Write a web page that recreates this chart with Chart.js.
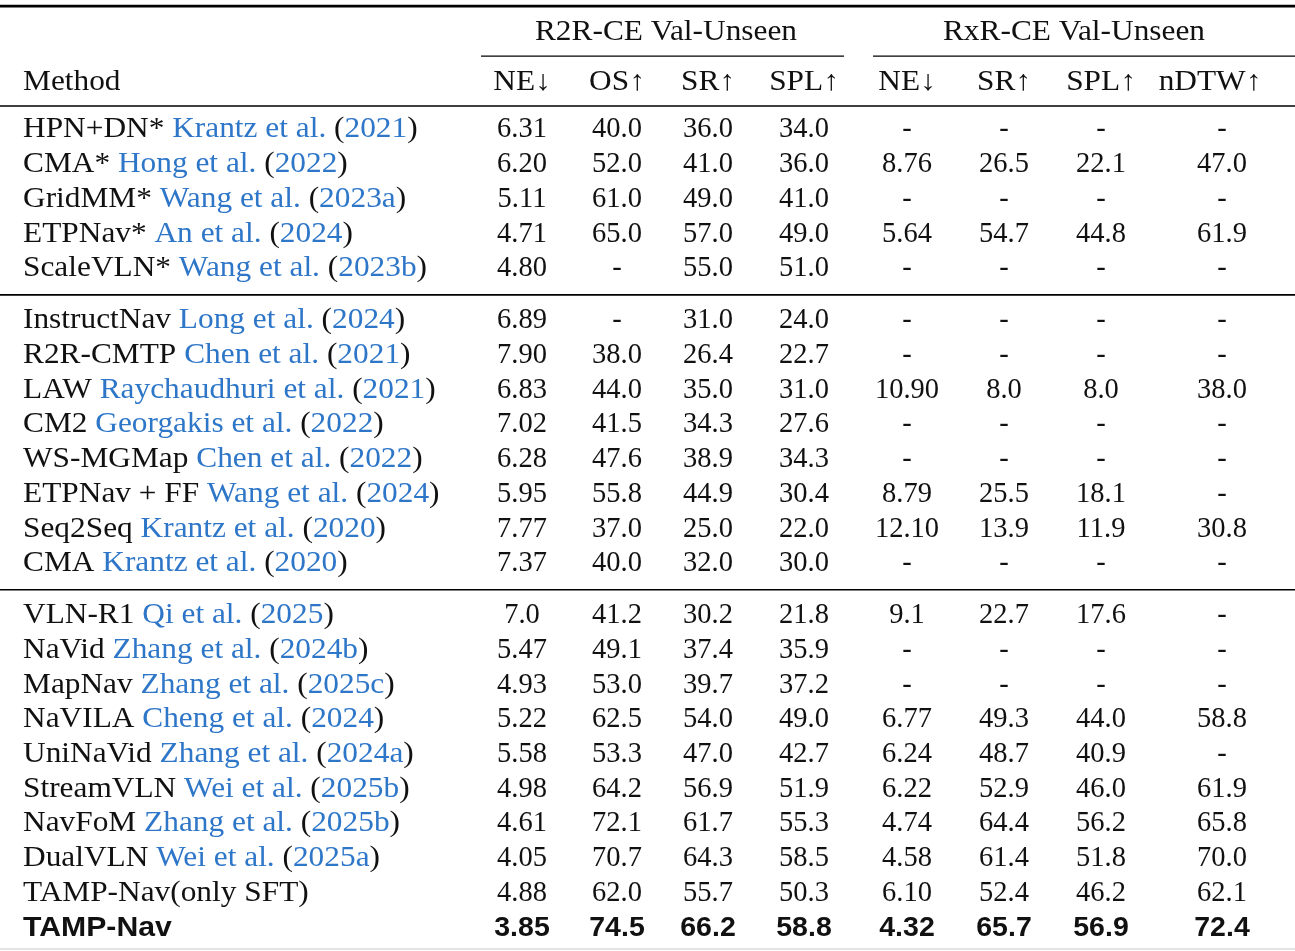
<!DOCTYPE html>
<html lang="en">
<head>
    <meta charset="UTF-8">
    <title>R2R-CE / RxR-CE Val-Unseen</title>
    <script src="https://cdn.jsdelivr.net/npm/chart.js"></script>
    <style>
        body {
            margin: 0;
            padding: 0;
            background: #fff;
        }

        #wrap {
            width: 1295px;
            height: 951px;
        }
    </style>
</head>
<body>
    <div id="wrap"><canvas id="table"></canvas></div>

    <script>
        // table content
        const groups = ['R2R-CE Val-Unseen', 'RxR-CE Val-Unseen'];
        const columns = ['NE↓', 'OS↑', 'SR↑', 'SPL↑', 'NE↓', 'SR↑', 'SPL↑', 'nDTW↑'];

        const methods = [
            'HPN+DN*', 'CMA*', 'GridMM*', 'ETPNav*', 'ScaleVLN*',
            'InstructNav', 'R2R-CMTP', 'LAW', 'CM2', 'WS-MGMap', 'ETPNav + FF', 'Seq2Seq', 'CMA',
            'VLN-R1', 'NaVid', 'MapNav', 'NaVILA', 'UniNaVid', 'StreamVLN', 'NavFoM', 'DualVLN',
            'TAMP-Nav(only SFT)', 'TAMP-Nav'
        ];
        const citeAuthors = [
            'Krantz et al.', 'Hong et al.', 'Wang et al.', 'An et al.', 'Wang et al.',
            'Long et al.', 'Chen et al.', 'Raychaudhuri et al.', 'Georgakis et al.', 'Chen et al.',
            'Wang et al.', 'Krantz et al.', 'Krantz et al.',
            'Qi et al.', 'Zhang et al.', 'Zhang et al.', 'Cheng et al.', 'Zhang et al.', 'Wei et al.',
            'Zhang et al.', 'Wei et al.', null, null
        ];
        const citeYears = [
            '2021', '2022', '2023a', '2024', '2023b',
            '2024', '2021', '2021', '2022', '2022', '2024', '2020', '2020',
            '2025', '2024b', '2025c', '2024', '2024a', '2025b', '2025b', '2025a', null, null
        ];

        // '-' where the paper reports nothing
        const r2rNE = ['6.31', '6.20', '5.11', '4.71', '4.80',
            '6.89', '7.90', '6.83', '7.02', '6.28', '5.95', '7.77', '7.37',
            '7.0', '5.47', '4.93', '5.22', '5.58', '4.98', '4.61', '4.05', '4.88', '3.85'];
        const r2rOS = ['40.0', '52.0', '61.0', '65.0', '-',
            '-', '38.0', '44.0', '41.5', '47.6', '55.8', '37.0', '40.0',
            '41.2', '49.1', '53.0', '62.5', '53.3', '64.2', '72.1', '70.7', '62.0', '74.5'];
        const r2rSR = ['36.0', '41.0', '49.0', '57.0', '55.0',
            '31.0', '26.4', '35.0', '34.3', '38.9', '44.9', '25.0', '32.0',
            '30.2', '37.4', '39.7', '54.0', '47.0', '56.9', '61.7', '64.3', '55.7', '66.2'];
        const r2rSPL = ['34.0', '36.0', '41.0', '49.0', '51.0',
            '24.0', '22.7', '31.0', '27.6', '34.3', '30.4', '22.0', '30.0',
            '21.8', '35.9', '37.2', '49.0', '42.7', '51.9', '55.3', '58.5', '50.3', '58.8'];
        const rxrNE = ['-', '8.76', '-', '5.64', '-',
            '-', '-', '10.90', '-', '-', '8.79', '12.10', '-',
            '9.1', '-', '-', '6.77', '6.24', '6.22', '4.74', '4.58', '6.10', '4.32'];
        const rxrSR = ['-', '26.5', '-', '54.7', '-',
            '-', '-', '8.0', '-', '-', '25.5', '13.9', '-',
            '22.7', '-', '-', '49.3', '48.7', '52.9', '64.4', '61.4', '52.4', '65.7'];
        const rxrSPL = ['-', '22.1', '-', '44.8', '-',
            '-', '-', '8.0', '-', '-', '18.1', '11.9', '-',
            '17.6', '-', '-', '44.0', '40.9', '46.0', '56.2', '51.8', '46.2', '56.9'];
        const rxrNDTW = ['-', '47.0', '-', '61.9', '-',
            '-', '-', '38.0', '-', '-', '-', '30.8', '-',
            '-', '-', '-', '58.8', '-', '61.9', '65.8', '70.0', '62.1', '72.4'];

        const blockSizes = [5, 8, 10];
        const boldRow = 22;

        // layout (x in canvas px, y in row units)
        const methodX = 23;
        const colX = [522, 617, 708, 804, 907, 1004, 1101, 1222];
        const headerColX = [522, 617, 708, 804, 907, 1004, 1101, 1210];
        const groupX = [666, 1074];
        const groupRuleX = [[481, 844], [873, 1295]];
        const BLOCK_GAP = 0.5;

        const SERIF = '"Liberation Serif", "DejaVu Serif", serif';
        const SANS = '"Liberation Sans", Arial, sans-serif';
        const FONT_PX = 28.5;
        const TEXT_STRETCH = 1.1;   // CM letters run wider than Times
        const BOLD_STRETCH = 1.06;
        const BLUE = '#2e76c8';
        const INK = '#111';

        const valueCols = [r2rNE, r2rOS, r2rSR, r2rSPL, rxrNE, rxrSR, rxrSPL, rxrNDTW];

        // row positions with a half-row gap at each block rule
        const rowY = [];
        const ruleY = [];
        let pos = 0;
        blockSizes.forEach((n, b) => {
            if (b > 0) {
                ruleY.push(pos - 1 + (1 + BLOCK_GAP) / 2);
                pos += BLOCK_GAP;
            }
            for (let i = 0; i < n; i++) {
                rowY.push(pos);
                pos += 1;
            }
        });

        const Y_GROUP = -2.81;
        const Y_CMID = -2.13;
        const Y_HEAD = -1.38;
        const Y_TOP = -3.57;
        const Y_HEADRULE = -0.69;

        const datasets = valueCols.map((col, c) => ({
            label: columns[c],
            data: col.map((v, i) => ({ x: colX[c], y: rowY[i], text: v })),
            pointRadius: 0,
            showLine: false
        }));
        datasets.push({
            label: 'Method',
            data: methods.map((m, i) => ({ x: methodX, y: rowY[i], text: m })),
            pointRadius: 0,
            showLine: false
        });

        // text squeezed/stretched horizontally around its anchor
        function fillStretched(ctx, t, x, y, sx) {
            ctx.save();
            ctx.translate(x, y);
            ctx.scale(sx, 1);
            ctx.fillText(t, 0, 0);
            ctx.restore();
        }

        function drawRun(ctx, x, y, parts, sx) {
            // parts: [text, color]; left aligned
            let cx = x;
            parts.forEach(([t, color]) => {
                ctx.fillStyle = color;
                fillStretched(ctx, t, cx, y, sx);
                cx += ctx.measureText(t).width * sx;
            });
        }

        const tablePlugin = {
            id: 'tablePlugin',
            afterDatasetsDraw(chart) {
                const ctx = chart.ctx;
                const xs = chart.scales.x;
                const ys = chart.scales.y;
                const W = chart.width;
                ctx.save();
                ctx.textBaseline = 'middle';

                // rules
                ctx.strokeStyle = '#000';
                const hline = (v, x0, x1, lw) => {
                    const py = ys.getPixelForValue(v);
                    ctx.lineWidth = lw;
                    ctx.beginPath();
                    ctx.moveTo(xs.getPixelForValue(x0), py);
                    ctx.lineTo(xs.getPixelForValue(x1), py);
                    ctx.stroke();
                };
                hline(Y_TOP, 0, W, 2.6);
                hline(Y_HEADRULE, 0, W, 1.6);
                ruleY.forEach(v => hline(v, 0, W, 1.6));
                groupRuleX.forEach(([a, b]) => hline(Y_CMID, a, b, 1.3));

                // faint bottom line
                ctx.strokeStyle = '#e4e4e4';
                hline(rowY[rowY.length - 1] + 0.6, 0, W, 2);

                // headers
                ctx.font = `${FONT_PX}px ${SERIF}`;
                ctx.fillStyle = INK;
                ctx.textAlign = 'center';
                groups.forEach((g, i) => {
                    fillStretched(ctx, g, xs.getPixelForValue(groupX[i]), ys.getPixelForValue(Y_GROUP), TEXT_STRETCH);
                });
                columns.forEach((c, i) => {
                    fillStretched(ctx, c, xs.getPixelForValue(headerColX[i]), ys.getPixelForValue(Y_HEAD), TEXT_STRETCH);
                });
                ctx.textAlign = 'left';
                fillStretched(ctx, 'Method', xs.getPixelForValue(methodX), ys.getPixelForValue(Y_HEAD), TEXT_STRETCH);

                // cells
                chart.data.datasets.forEach((ds, d) => {
                    const meta = chart.getDatasetMeta(d);
                    ds.data.forEach((pt, i) => {
                        const el = meta.data[i];
                        const bold = i === boldRow;
                        ctx.font = bold ? `bold ${FONT_PX}px ${SANS}` : `${FONT_PX}px ${SERIF}`;
                        if (ds.label === 'Method') {
                            ctx.textAlign = 'left';
                            const parts = [[pt.text, INK]];
                            if (citeAuthors[i]) {
                                parts.push([' ' + citeAuthors[i] + ' ', BLUE]);
                                parts.push(['(', INK]);
                                parts.push([citeYears[i], BLUE]);
                                parts.push([')', INK]);
                            }
                            drawRun(ctx, el.x, el.y, parts, bold ? BOLD_STRETCH : TEXT_STRETCH);
                        } else {
                            ctx.textAlign = 'center';
                            ctx.fillStyle = INK;
                            ctx.fillText(pt.text, el.x, el.y);
                        }
                    });
                });
                ctx.restore();
            }
        };

        const ROW_PX = 34.7;
        const FIRST_ROW_PX = 130;
        const yMin = -FIRST_ROW_PX / ROW_PX;
        const yMax = yMin + 951 / ROW_PX;

        new Chart(document.getElementById('table'), {
            type: 'scatter',
            data: { datasets },
            options: {
                responsive: true,
                maintainAspectRatio: false,
                animation: false,
                events: [],
                layout: { padding: 0 },
                plugins: {
                    legend: { display: false },
                    tooltip: { enabled: false }
                },
                scales: {
                    x: { type: 'linear', min: 0, max: 1295, display: false },
                    y: { type: 'linear', min: yMin, max: yMax, reverse: true, display: false }
                }
            },
            plugins: [tablePlugin]
        });
    </script>
</body>
</html>
